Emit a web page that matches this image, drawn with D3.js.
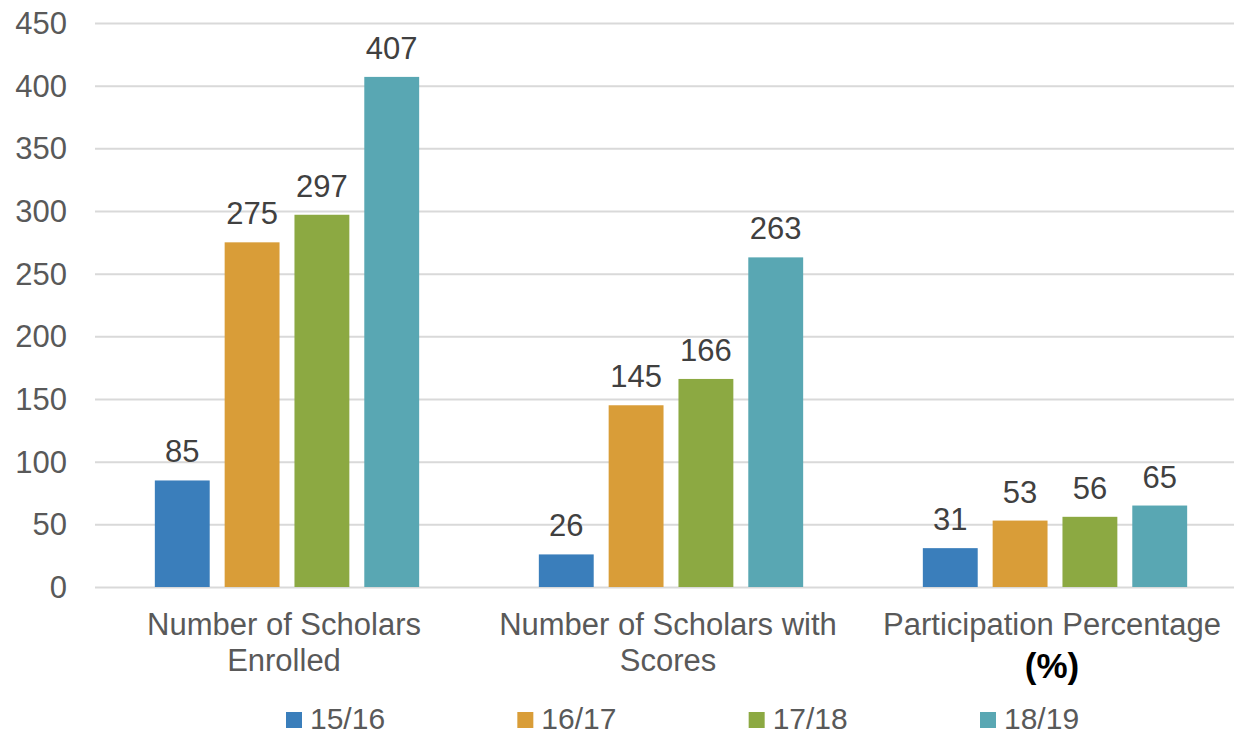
<!DOCTYPE html>
<html>
<head>
<meta charset="utf-8">
<script src="https://cdn.jsdelivr.net/npm/d3@7"></script>
<style>
  html, body { margin: 0; padding: 0; background: #fff; }
  svg { display: block; font-family: "Liberation Sans", Arial, sans-serif; }
</style>
</head>
<body>
<svg id="chart" width="1234" height="735"></svg>
<script>
const categories = [
  ["Number of Scholars", "Enrolled"],
  ["Number of Scholars with", "Scores"],
  ["Participation Percentage", "(%)"]
];
const categoryKeys = ["enrolled", "scores", "participation"];
const seriesNames = ["15/16", "16/17", "17/18", "18/19"];
const seriesColors = ["#3A7EBB", "#D99D38", "#8CA942", "#59A7B3"];
const values1516 = [85, 26, 31];
const values1617 = [275, 145, 53];
const values1718 = [297, 166, 56];
const values1819 = [407, 263, 65];
const yTicks = [0, 50, 100, 150, 200, 250, 300, 350, 400, 450];

const seriesValues = [values1516, values1617, values1718, values1819];

const svg = d3.select("#chart");
const plotTop = 23, plotBottom = 587;

const x0 = d3.scaleBand().domain(categoryKeys).range([95, 1247]).paddingInner(0).paddingOuter(0);
const x1 = d3.scaleBand().domain(seriesNames).range([0, x0.bandwidth()])
  .paddingInner(0.214).paddingOuter(0.857);
const y = d3.scaleLinear().domain([0, 450]).range([plotBottom, plotTop]);

// Gridlines + y tick labels
const yAxis = d3.axisLeft(y).tickValues(yTicks).tickSize(-(1247 - 95)).tickPadding(28);
const gy = svg.append("g").attr("transform", "translate(95,0)").call(yAxis);
gy.select(".domain").remove();
gy.selectAll(".tick line").attr("stroke", "#D9D9D9").attr("stroke-width", 2);
gy.selectAll(".tick text")
  .attr("fill", "#595959")
  .style("font-size", "31px")
  .attr("dy", "0.34em");

// Bars
const groups = svg.append("g").selectAll("g")
  .data(categoryKeys)
  .join("g")
  .attr("transform", d => `translate(${x0(d)},0)`);

groups.selectAll("rect")
  .data((d, i) => seriesNames.map((s, j) => ({ s, v: seriesValues[j][i], j })))
  .join("rect")
  .attr("x", d => x1(d.s))
  .attr("width", x1.bandwidth())
  .attr("y", d => y(d.v))
  .attr("height", d => y(0) - y(d.v))
  .attr("fill", d => seriesColors[d.j]);

groups.selectAll("text.val")
  .data((d, i) => seriesNames.map((s, j) => ({ s, v: seriesValues[j][i], j })))
  .join("text")
  .attr("class", "val")
  .attr("x", d => x1(d.s) + x1.bandwidth() / 2)
  .attr("y", d => y(d.v) - 18)
  .attr("text-anchor", "middle")
  .attr("fill", "#404040")
  .style("font-size", "31px")
  .text(d => d.v);

// Category labels
const cat = svg.append("g");
categoryKeys.forEach((k, i) => {
  const cx = x0(k) + x0.bandwidth() / 2 - 3;
  cat.append("text")
    .attr("x", cx).attr("y", 635)
    .attr("text-anchor", "middle")
    .attr("fill", "#595959")
    .style("font-size", "31px")
    .text(categories[i][0]);
  const t2 = cat.append("text")
    .attr("x", cx)
    .attr("text-anchor", "middle")
    .text(categories[i][1]);
  if (k === "participation") {
    t2.attr("y", 678).attr("fill", "#000").style("font-weight", "bold").style("font-size", "35px");
  } else {
    t2.attr("y", 671).attr("fill", "#595959").style("font-size", "31px");
  }
});

// Legend
const legendX = d3.scalePoint().domain(seriesNames).range([286, 980]);
const lg = svg.append("g").selectAll("g")
  .data(seriesNames)
  .join("g")
  .attr("transform", d => `translate(${legendX(d)},0)`);
lg.append("rect")
  .attr("x", 0).attr("y", 712)
  .attr("width", 16).attr("height", 16)
  .attr("fill", (d, i) => seriesColors[i]);
lg.append("text")
  .attr("x", 24).attr("y", 729)
  .attr("fill", "#595959")
  .style("font-size", "30px")
  .text(d => d);
</script>
</body>
</html>
